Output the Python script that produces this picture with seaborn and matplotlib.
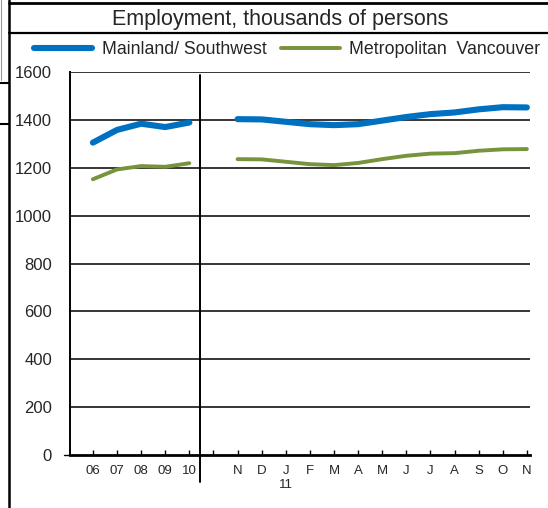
import matplotlib
matplotlib.use('Agg')
import matplotlib.pyplot as plt
from matplotlib.lines import Line2D
import seaborn as sns
import pandas as pd
import numpy as np

# categories on the x axis ("" is the gap between annual and monthly data)
categories = ["06", "07", "08", "09", "10", "",
              "N", "D", "J\n11", "F", "M", "A", "M", "J", "J", "A", "S", "O", "N"]

# annual averages 2006-2010
annual_mainland = [1305, 1358, 1384, 1370, 1389]
annual_vancouver = [1152, 1193, 1207, 1204, 1219]

# monthly, Nov 2010 - Nov 2011
monthly_mainland = [1403, 1402, 1392, 1382, 1378, 1382, 1397, 1412, 1424, 1431, 1444, 1453, 1452]
monthly_vancouver = [1236, 1235, 1225, 1215, 1211, 1220, 1236, 1250, 1259, 1261, 1271, 1277, 1278]

series_names = ["Mainland/ Southwest", "Metropolitan  Vancouver"]
colors = ["#0070C0", "#77933C"]
widths = [4.4, 2.8]

rows = []
for name, ann, mon in [(series_names[0], annual_mainland, monthly_mainland),
                       (series_names[1], annual_vancouver, monthly_vancouver)]:
    for i, v in enumerate(ann):
        rows.append((name, "annual", i, v))
    for i, v in enumerate(mon):
        rows.append((name, "monthly", i + len(ann) + 1, v))
df = pd.DataFrame(rows, columns=["series", "segment", "pos", "value"])

sns.set_style("white")
plt.rcParams['font.family'] = ['Liberation Sans', 'DejaVu Sans']

fig = plt.figure(figsize=(5.48, 5.08), dpi=100)
W, H = 548, 508
ax = fig.add_axes([70 / W, (H - 455) / H, (530 - 70) / W, (455 - 72) / H])

for name, col, lw in zip(series_names, colors, widths):
    sub = df[df.series == name]
    for seg in ["annual", "monthly"]:
        s = sub[sub.segment == seg]
        sns.lineplot(data=s, x="pos", y="value", ax=ax, color=col, linewidth=lw,
                     solid_capstyle='round', legend=False, zorder=3)

ax.set_ylim(0, 1600)
ax.set_xlim(-0.95, len(categories) - 0.87)
ax.set_yticks(range(0, 1601, 200))
ax.set_xticks(range(len(categories)))
ax.set_xticklabels(categories, fontsize=9.5)
ax.tick_params(axis='x', bottom=True, direction='in', length=3.5, width=1,
               color='black', pad=7)
ax.tick_params(axis='y', length=0, labelsize=12, pad=13)
ax.set_xlabel("")
ax.set_ylabel("")

for y in range(200, 1601, 200):
    ax.axhline(y, color='black', lw=1.1, zorder=1)

for side in ["top", "right"]:
    ax.spines[side].set_visible(False)
ax.spines["left"].set_color("black")
ax.spines["left"].set_linewidth(1.4)
ax.spines["bottom"].set_color("black")
ax.spines["bottom"].set_linewidth(2)
ax.spines["bottom"].set_zorder(4)

# small outward tick at zero on the left
ax.plot([-0.95 - 0.25, -0.95], [0, 0], color='black', lw=1, clip_on=False)

# separator between annual and monthly data
ax.axvline(4.45, ymin=-0.07, ymax=0.992, color='black', lw=1.4, clip_on=False, zorder=2)

# legend
handles = [Line2D([0], [0], color=c, lw=lw) for c, lw in zip(colors, widths)]
fig.legend(handles, series_names, loc='center', bbox_to_anchor=(287 / W, 1 - 50 / H),
           ncol=2, frameon=False, fontsize=12.8, handlelength=3.3, handletextpad=0.55,
           columnspacing=0.8, borderaxespad=0)

# title
fig.text(280 / W, 1 - 19 / H, "Employment, thousands of persons", ha='center', va='center',
         fontsize=15.5)

# frame lines around the title area
fig.add_artist(Line2D([9 / W, 9 / W], [0, 1], color='black', lw=1.8))
fig.add_artist(Line2D([9 / W, 1], [1 - 3 / H, 1 - 3 / H], color='black', lw=2))
fig.add_artist(Line2D([9 / W, 1], [1 - 33 / H, 1 - 33 / H], color='black', lw=1.6))
fig.add_artist(Line2D([1 / W, 1 / W], [1 - 80 / H, 1], color='#999999', lw=0.8))
for yy in [83, 124]:
    fig.add_artist(Line2D([0, 9 / W], [1 - yy / H, 1 - yy / H], color='black', lw=1.5))

fig.savefig("out.png", dpi=100)
